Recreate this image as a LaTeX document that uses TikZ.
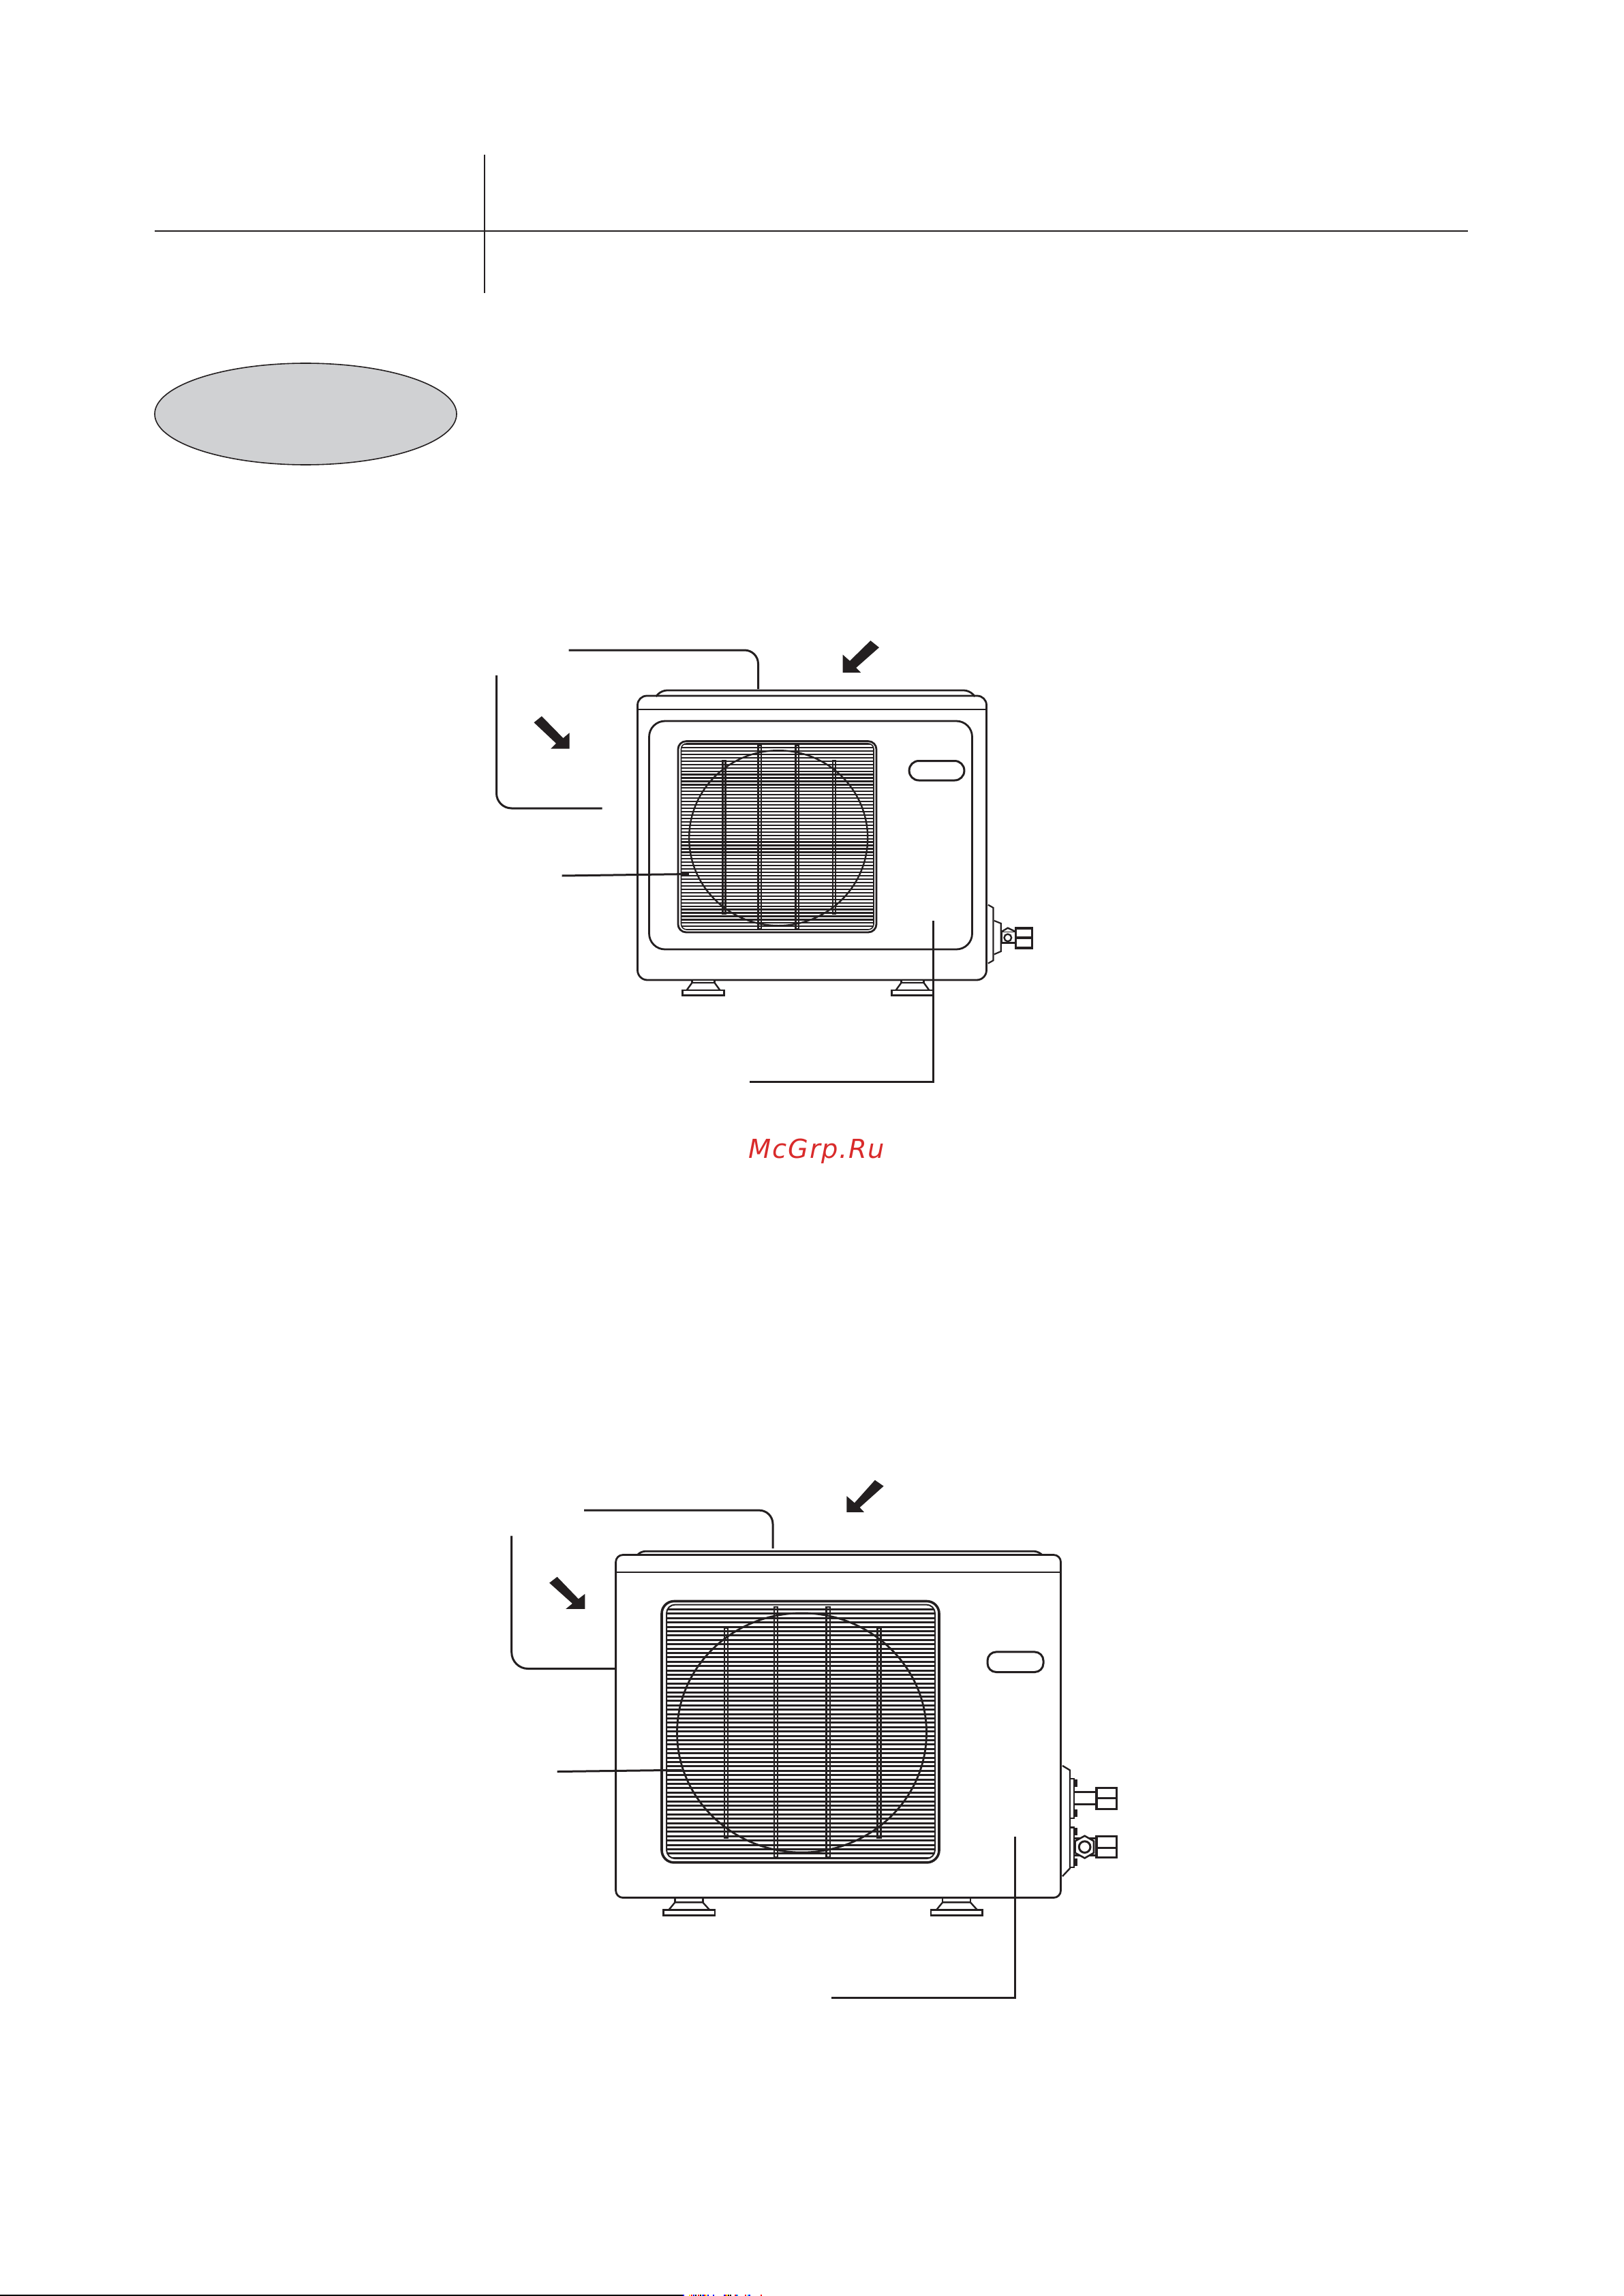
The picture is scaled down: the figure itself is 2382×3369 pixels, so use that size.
\documentclass[tikz,border=0pt]{standalone}
\usepackage{fontspec}
\newfontfamily\wmfont[LetterSpace=4.5]{DejaVu Sans}
\definecolor{ink}{HTML}{231F20}
\definecolor{ovalgrey}{HTML}{D0D1D3}
\definecolor{wmred}{HTML}{D92B2B}
\tikzset{
  ln/.style={draw=ink,line width=0.7pt,line join=miter},
  leader/.style={draw=ink,line width=0.75pt},
  fin/.style={draw=ink,line width=#1},
  barbox/.style={draw=ink,line width=0.55pt},
  fan/.style={draw=ink,line width=0.6pt},
  flow/.style={fill=ink,draw=none},
  fine/.style={draw=ink,line width=0.6pt,fill=white}
}
\begin{document}
\begin{tikzpicture}[x=0.25pt,y=-0.25pt]
\useasboundingbox (0,0) rectangle (2382,3369);
\fill[white] (0,0) rectangle (2382,3369);

% header rules
\coordinate (hl) at (227,339.5); \coordinate (hr) at (2154,339.5);
\coordinate (vt) at (711,227); \coordinate (vb) at (711,430.5);
\draw[ink,line width=0.5pt] (hl) -- (hr);
\draw[ink,line width=0.6pt] (vt) -- (vb);
\draw[draw=ink,fill=ovalgrey,line width=0.4pt] (448.5,607.5) ellipse [x radius=221.5,y radius=74.5];

% ===== upper unit =====
\begin{scope}[shift={(1.5,1)}]
\draw[ln,rounded corners=2pt] (961,1021) -- (969,1012) -- (1421,1012) -- (1429,1021);
\draw[ln,rounded corners=3.4pt] (934,1040) -- (934,1020) -- (1446,1020) -- (1446,1040);
\draw[ln] (934,1040) -- (1446,1040);
\draw[ln,rounded corners=3.6pt] (934,1040) -- (934,1437) -- (1446,1437) -- (1446,1040);
\draw[ln,rounded corners=5.8pt] (951,1057) rectangle (1425,1392);
% grille
\draw[ln,rounded corners=3pt] (993.4,1086.6) rectangle (1284.5,1367);
\begin{scope}
\clip[rounded corners=2pt] (998,1090) rectangle (1280.5,1363);
\foreach \yy in {0,...,55} \draw[fin=0.55pt] (998,1091+4.95*\yy) -- (1281,1091+4.95*\yy);
\end{scope}
\draw[ink,line width=0.4pt,rounded corners=2pt] (998,1090) rectangle (1280.5,1363);
\draw[fan] (1140.7,1228.7) ellipse [x radius=131,y radius=128.5];
\draw[barbox] (1058.9,1115.5) rectangle (1062.9,1340);
\draw[barbox] (1111,1092.6) rectangle (1115.5,1362);
\draw[barbox] (1166,1092.6) rectangle (1170.5,1362);
\draw[barbox] (1220.6,1115.5) rectangle (1224.6,1340);
\draw[ln,line width=0.75pt,rounded corners=3.5pt] (1332.6,1115.5) rectangle (1413.4,1144);
% feet
\foreach \fx in {1000,1307} {
  \begin{scope}[shift={(\fx,0)}]
    \draw[fine] (14,1437) rectangle (47,1441);
    \draw[fine] (14,1441) -- (47,1441) -- (55,1452) -- (6,1452) -- cycle;
    \draw[fine] (0,1452) rectangle (61,1459.5);
  \end{scope}
}
% valve
\begin{scope}[shift={(1400,1280)},x=0.0833pt,y=-0.0833pt]
  \draw[fine,line width=0.55pt] (145,140) -- (168,153) -- (168,385) -- (145,398);
  \draw[fine,line width=0.55pt] (172,210) -- (202,222) -- (202,345) -- (172,358);
  \draw[fine,line width=0.75pt] (205,258) rectangle (266,308);
  \draw[fine,line width=0.6pt] (205,258) -- (232,242) -- (266,258);
  \draw[fine,line width=0.6pt] (232,285) circle [radius=16];
  \draw[fine,line width=0.8pt] (268,243) rectangle (340,330);
  \draw[ink,line width=0.8pt] (268,285) -- (340,285);
\end{scope}
% arrows
\begin{scope}[shift={(700,900)},xscale=.573,yscale=.4586]
  \fill[flow] (934,187) -- (934,130) -- (952,150) -- (1005,85) -- (1027,107) -- (968,172) -- (980,187) -- cycle;
  \fill[flow] (234,431) -- (234,380) -- (218,397) -- (163,327) -- (143,347) -- (200,414) -- (186,431) -- cycle;
\end{scope}
% leaders
\coordinate (a1) at (833,953); \coordinate (a2) at (1111,1010);
\coordinate (b1) at (727,990); \coordinate (b2) at (882,1185);
\coordinate (c1) at (823,1284); \coordinate (c2) at (1009.4,1281.5);
\coordinate (d1) at (1367.5,1350); \coordinate (d2) at (1098,1586.5);
\draw[leader,rounded corners=5pt] (a1) -| (a2);
\draw[leader,rounded corners=5.5pt] (b1) |- (b2);
\draw[leader] (c1) -- (c2);
\draw[leader] (d1) |- (d2);
\end{scope}

% ===== lower unit =====
\begin{scope}[shift={(1,1.5)}]
\draw[ln,rounded corners=1.5pt] (934.4,2280) -- (940,2274.7) -- (1522,2274.7) -- (1528,2280);
\draw[ln,rounded corners=2.6pt] (902.6,2305.5) -- (902.6,2280) -- (1555.5,2280) -- (1555.5,2305.5);
\draw[ln] (902.6,2305.5) -- (1555.5,2305.5);
\draw[ln,rounded corners=2.6pt] (902.6,2305.5) -- (902.6,2783) -- (1555.5,2783) -- (1555.5,2305.5);
% grille
\draw[ln,line width=0.9pt,rounded corners=4.5pt] (970,2348) rectangle (1377,2731.4);
\begin{scope}
\clip[rounded corners=3.2pt] (977,2353) rectangle (1371,2725.7);
\foreach \yy in {0,...,58} \draw[fin=0.72pt] (977,2360+6.4*\yy) -- (1371,2360+6.4*\yy);
\end{scope}
\draw[ink,line width=0.5pt,rounded corners=3.2pt] (977,2353) rectangle (1371,2725.7);
\draw[fan,line width=0.7pt] (1175.5,2541) ellipse [x radius=183,y radius=175.6];
\draw[barbox] (1062,2387) rectangle (1067,2695);
\draw[barbox] (1135,2356.6) rectangle (1140.2,2723.6);
\draw[barbox] (1211.5,2356.6) rectangle (1216.7,2723.6);
\draw[barbox] (1286.5,2387) rectangle (1291.5,2695);
\draw[ln,line width=0.75pt,rounded corners=3.2pt] (1448,2422.4) rectangle (1530,2452);
% feet
\foreach \fx in {972.3,1365} {
  \begin{scope}[shift={(\fx,0)}]
    \draw[fine] (17,2783) rectangle (58,2790);
    \draw[fine] (17,2790) -- (58,2790) -- (68,2801) -- (8,2801) -- cycle;
    \draw[fine] (0,2801) rectangle (75.5,2809);
  \end{scope}
}
% valves
\begin{scope}[shift={(1530,2560)},x=0.0833pt,y=-0.0833pt]
  \draw[fine,line width=0.6pt] (84,88) -- (117,108) -- (117,540) -- (84,575);
  \fill[ink] (135,148) rectangle (150,182);
  \fill[ink] (135,282) rectangle (150,315);
  \fill[ink] (135,362) rectangle (150,395);
  \fill[ink] (135,497) rectangle (150,530);
  \draw[fine,line width=0.55pt] (117,145) rectangle (135,320);
  \draw[fine,line width=0.55pt] (117,360) rectangle (135,535);
  \draw[ink,line width=0.75pt] (135,205) -- (234,205);
  \draw[ink,line width=0.75pt] (135,258) -- (234,258);
  \draw[fine,line width=0.8pt] (234,185) rectangle (322,278);
  \draw[ink,line width=0.8pt] (234,232) -- (322,232);
  \draw[ink,line width=0.75pt] (135,408) -- (234,408);
  \draw[ink,line width=0.75pt] (135,482) -- (234,482);
  \draw[fine,line width=0.65pt] (182,397) -- (222,420) -- (222,472) -- (182,495) -- (140,472) -- (140,420) -- cycle;
  \draw[fine,line width=0.75pt] (182,446) circle [radius=25];
  \draw[fine,line width=0.8pt] (234,400) rectangle (322,493);
  \draw[ink,line width=0.8pt] (234,450) -- (322,450);
\end{scope}
% arrows
\begin{scope}[shift={(700,2140)},xscale=.637,yscale=.522]
  \fill[flow] (850,148) -- (850,103) -- (868,122) -- (915,58) -- (935,75) -- (880,135) -- (890,148) -- cycle;
  \fill[flow] (247,420) -- (247,378) -- (232,392) -- (183,330) -- (165,347) -- (218,405) -- (203,420) -- cycle;
\end{scope}
% leaders
\coordinate (e1) at (856,2214.6); \coordinate (e2) at (1133,2270.5);
\coordinate (f1) at (749.7,2252); \coordinate (f2) at (902.6,2447);
\coordinate (g1) at (816.6,2598); \coordinate (g2) at (999.4,2595.7);
\coordinate (h1) at (1488,2693); \coordinate (h2) at (1219,2930);
\draw[leader,rounded corners=5pt] (e1) -| (e2);
\draw[leader,rounded corners=6pt] (f1) |- (f2);
\draw[leader] (g1) -- (g2);
\draw[leader] (h1) |- (h2);
\end{scope}

% watermark
\node[inner sep=0pt,anchor=base west,text=wmred] (wm) at (1098,1699)
  {\fontsize{9.6pt}{11pt}\selectfont\wmfont\itshape McGrp.Ru};

% bottom edge
\fill[black] (0,3367) rectangle (1003,3369);
\foreach \tx/\tc in {1002/blue,1011/yellow,1014/red,1017/blue,1020/black,1024/red,1027/black,1030/cyan,1031/blue,1033/red,1035/yellow,1038/blue,1046/blue,1062/blue,1064/red,1066/yellow,1068/black,1071/black,1078/red,1080/blue,1081/cyan,1093/red,1097/cyan,1099/blue,1116/red} {
  \fill[\tc] (\tx,3367) rectangle (\tx+1.5,3369);
}
\end{tikzpicture}
\end{document}
